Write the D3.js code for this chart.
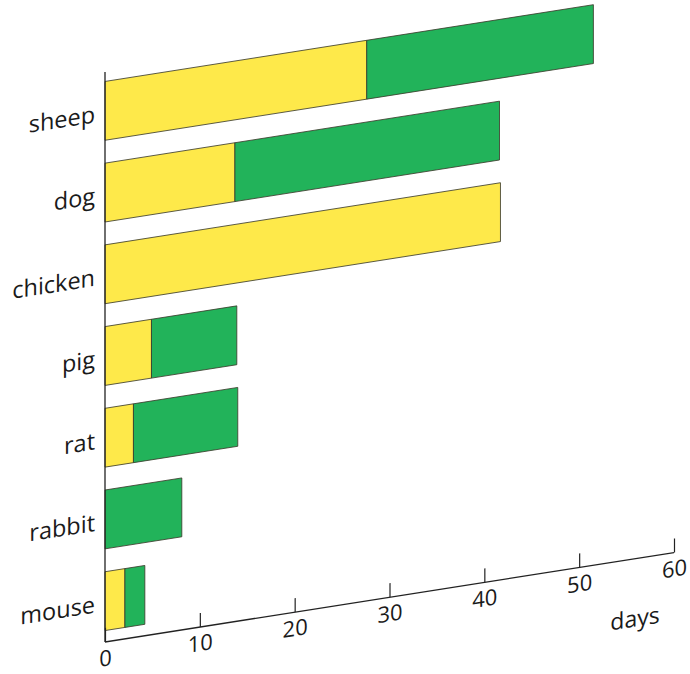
<!DOCTYPE html>
<html>
<head>
<meta charset="utf-8">
<script src="https://cdn.jsdelivr.net/npm/d3@7"></script>
<style>
  html, body { margin: 0; padding: 0; background: #fff; }
  svg { display: block; }
  text { font-family: "Open Sans", "Noto Sans", sans-serif; fill: #1a1a1a; }
</style>
</head>
<body>
<svg id="chart" width="690" height="674"></svg>
<script>
// ---- data ----
const categories = ["sheep", "dog", "chicken", "pig", "rat", "rabbit", "mouse"];
const yellowDays = [27.6, 13.7, 41.7, 4.9, 3.0, 0, 2.1];
const greenDays  = [23.9, 27.9, 0, 9.0, 11.0, 8.1, 2.1];
const tickValues = [0, 10, 20, 30, 40, 50, 60];
const axisLabel = "days";

// ---- layout ----
const originX = 105;
const skewDeg = -8.93;
const svg = d3.select("#chart");
const g = svg.append("g")
  .attr("transform", `translate(${originX},0) skewY(${skewDeg})`);

const x = d3.scaleLinear().domain([0, 60]).range([0, 569]);
const y = d3.scaleBand().domain(categories).range([70, 642])
  .paddingInner(0.28).paddingOuter(0.14);

const rows = categories.map((c, i) => ({ c, yel: yellowDays[i], grn: greenDays[i] }));

// bars
const segs = [];
rows.forEach(r => {
  if (r.yel > 0) segs.push({ c: r.c, x0: 0, x1: r.yel, color: "#FEE94A" });
  if (r.grn > 0) segs.push({ c: r.c, x0: r.yel, x1: r.yel + r.grn, color: "#22B35A" });
});
g.selectAll("rect.seg").data(segs).join("rect")
  .attr("class", "seg")
  .attr("x", d => x(d.x0))
  .attr("width", d => x(d.x1) - x(d.x0))
  .attr("y", d => y(d.c))
  .attr("height", y.bandwidth())
  .attr("fill", d => d.color)
  .attr("stroke", "#3a3a2a")
  .attr("stroke-width", 0.8);

// y axis line
g.append("line")
  .attr("x1", 0).attr("x2", 0)
  .attr("y1", 72).attr("y2", 642)
  .attr("stroke", "#222").attr("stroke-width", 1.3);

// category labels
g.selectAll("text.cat").data(categories).join("text")
  .attr("class", "cat")
  .attr("x", -10)
  .attr("y", d => y(d) + y.bandwidth() / 2 + 10)
  .attr("text-anchor", "end")
  .attr("font-size", 23.5)
  .text(d => d);

// x axis
const xAxis = d3.axisBottom(x).tickValues(tickValues).tickSize(-14).tickPadding(0).tickFormat(d3.format("d"));
const ax = g.append("g").attr("transform", "translate(0,642)").call(xAxis);
ax.select(".domain").attr("stroke", "#222").attr("stroke-width", 1.3).attr("d", `M0,0H${x(60)}`);
ax.selectAll(".tick line").attr("stroke", "#222").attr("stroke-width", 1.2);
ax.selectAll(".tick text")
  .attr("y", 24)
  .attr("dy", 0)
  .attr("font-size", 22)
  .attr("font-family", "Open Sans, Noto Sans, sans-serif")
  .attr("fill", "#1a1a1a");

// axis title
g.append("text")
  .attr("x", 530)
  .attr("y", 642 + 68)
  .attr("text-anchor", "middle")
  .attr("font-size", 23)
  .text(axisLabel);
</script>
</body>
</html>
